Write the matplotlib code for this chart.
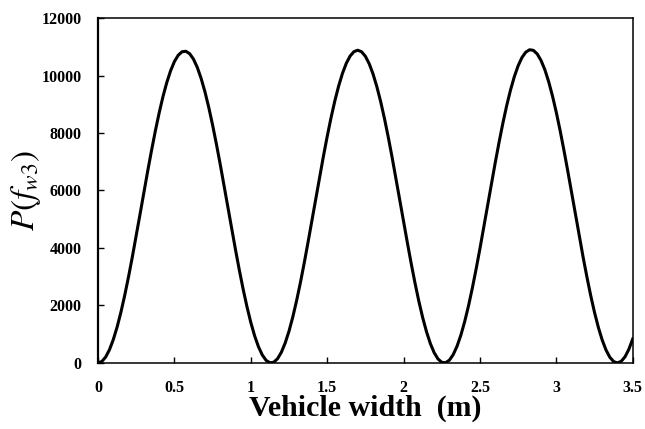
import numpy as np
import matplotlib
matplotlib.use("Agg")
import matplotlib.pyplot as plt

# values (x step 0.025 m)
width_m = np.round(np.arange(0, 141) * 0.025, 3)
power = [
    0, 52, 207, 462, 814, 1252, 1771, 2361, 3009, 3703,
    4430, 5177, 5931, 6673, 7389, 8069, 8697, 9266, 9757, 10166,
    10487, 10707, 10827, 10843, 10757, 10567, 10278, 9895, 9429, 8884,
    8273, 7608, 6903, 6165, 5416, 4667, 3932, 3225, 2561, 1952,
    1408, 943, 564, 278, 90, 5, 24, 147, 372, 694,
    1106, 1603, 2173, 2806, 3489, 4211, 4956, 5703, 6451, 7184,
    7879, 8528, 9117, 9636, 10075, 10424, 10677, 10830, 10880, 10826,
    10668, 10409, 10054, 9611, 9091, 8498, 7848, 7149, 6417, 5666,
    4919, 4175, 3454, 2773, 2143, 1578, 1085, 677, 359, 139,
    21, 7, 97, 291, 583, 968, 1440, 1988, 2603, 3273,
    3984, 4724, 5477, 6229, 6969, 7678, 8344, 8955, 9496, 9962,
    10341, 10628, 10813, 10896, 10874, 10748, 10520, 10197, 9779, 9280,
    8708, 8075, 7388, 6668, 5921, 5166, 4415, 3685, 2991, 2341,
    1753, 1235, 798, 450, 198, 47, 0, 58, 218, 480,
    836,
]
xticks = [0, 0.5, 1, 1.5, 2, 2.5, 3, 3.5]
xtick_labels = ["0", "0.5", "1", "1.5", "2", "2.5", "3", "3.5"]
yticks = [0, 2000, 4000, 6000, 8000, 10000, 12000]

plt.rcParams["font.family"] = "Liberation Serif"
plt.rcParams["mathtext.fontset"] = "stix"

fig = plt.figure(figsize=(6.45, 4.29), dpi=100)
ax = fig.add_axes([0.152, 0.154, 0.829, 0.804])

ax.plot(width_m, power, color="black", linewidth=2.2, solid_joinstyle="round")

ax.set_xlim(0, 3.5)
ax.set_ylim(0, 12000)
ax.set_xticks(xticks)
ax.set_xticklabels(xtick_labels)
ax.set_yticks(yticks)

ax.tick_params(axis="both", direction="in", length=4, width=1, labelsize=11.5)
ax.tick_params(axis="x", pad=12)
ax.tick_params(axis="y", pad=12)
for lab in ax.get_xticklabels() + ax.get_yticklabels():
    lab.set_fontweight("bold")

for side in ["top", "right", "bottom"]:
    ax.spines[side].set_linewidth(1.1)
ax.spines["left"].set_linewidth(1.6)

ax.set_xlabel("Vehicle width  (m)", fontsize=21.5, fontweight="bold")
ax.xaxis.set_label_coords(0.5, -0.093)
ax.set_ylabel(r"$P\left(f_{w3}\right)$", fontsize=24)
ax.yaxis.set_label_coords(-0.103, 0.5)

fig.savefig("out.png", dpi=100, facecolor="white")
